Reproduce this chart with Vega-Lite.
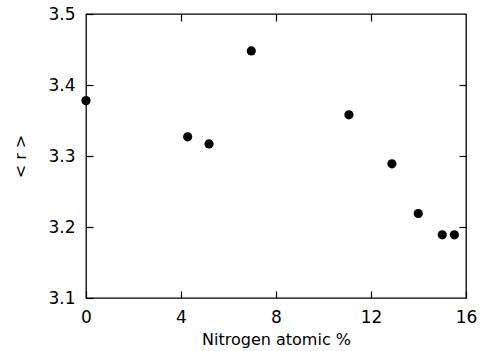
{
  "$schema": "https://vega.github.io/schema/vega-lite/v6.json",
  "width": 380,
  "height": 284,
  "autosize": {"type": "none"},
  "padding": {"left": 86, "top": 14, "right": 18, "bottom": 53},
  "background": "white",
  "config": {
    "view": {"stroke": "black", "strokeWidth": 1.3},
    "font": "DejaVu Sans",
    "axis": {
      "domain": false,
      "grid": false,
      "ticks": true,
      "tickColor": "black",
      "tickWidth": 1.2,
      "labelColor": "black",
      "labelFontSize": 17,
      "labelFont": "DejaVu Sans",
      "titleFont": "DejaVu Sans",
      "titleFontSize": 16,
      "titleFontWeight": "normal",
      "titleColor": "black"
    }
  },
  "data": {
    "values": [
      {"n": 0, "r": 3.378},
      {"n": 4.28, "r": 3.327},
      {"n": 5.18, "r": 3.317},
      {"n": 6.96, "r": 3.448},
      {"n": 11.07, "r": 3.358},
      {"n": 12.88, "r": 3.289},
      {"n": 13.99, "r": 3.219},
      {"n": 15.0, "r": 3.189},
      {"n": 15.51, "r": 3.189}
    ]
  },
  "resolve": {"axis": {"x": "independent", "y": "independent"}},
  "layer": [
    {
      "mark": {"type": "point", "filled": true, "color": "black", "opacity": 1, "size": 85},
      "encoding": {
        "x": {
          "field": "n", "type": "quantitative",
          "scale": {"domain": [0, 16], "nice": false, "zero": false},
          "axis": {"values": [0, 4, 8, 12, 16], "tickSize": -7, "title": "Nitrogen atomic %", "labelPadding": 18, "titlePadding": 6, "labelFlush": false, "labelOverlap": false}
        },
        "y": {
          "field": "r", "type": "quantitative",
          "scale": {"domain": [3.1, 3.5], "nice": false, "zero": false},
          "axis": {"values": [3.1, 3.2, 3.3, 3.4, 3.5], "tickSize": -7, "format": ".1f", "title": "< r >", "labelPadding": 18, "titlePadding": 19, "labelFlush": false, "labelOverlap": false}
        }
      }
    },
    {
      "mark": {"type": "point", "opacity": 0},
      "encoding": {
        "x": {
          "field": "n", "type": "quantitative",
          "axis": {"orient": "top", "values": [4, 8, 12], "tickSize": -7, "labels": false, "title": null}
        },
        "y": {
          "field": "r", "type": "quantitative",
          "axis": {"orient": "right", "values": [3.2, 3.3, 3.4], "tickSize": -7, "labels": false, "title": null}
        }
      }
    }
  ]
}
